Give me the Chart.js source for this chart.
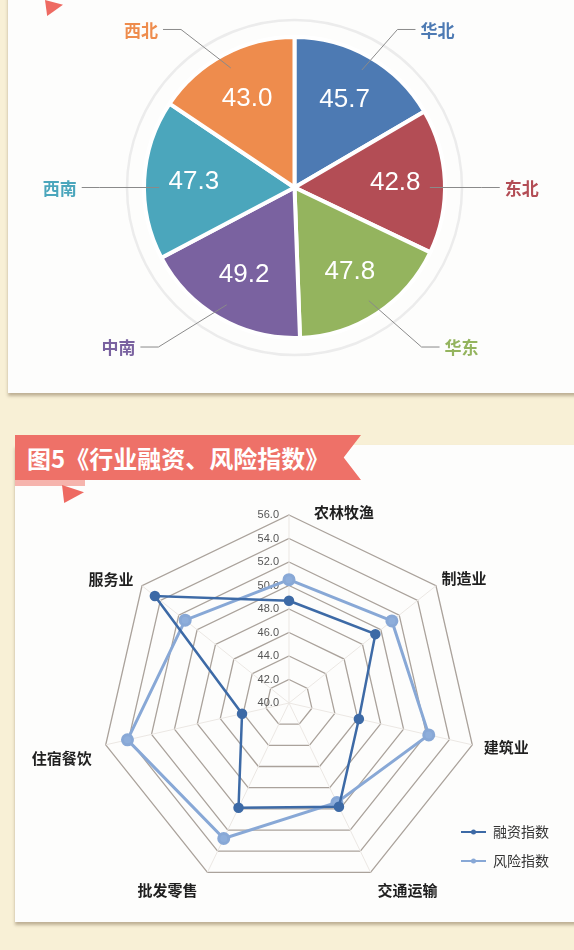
<!DOCTYPE html>
<html>
<head>
    <meta charset="utf-8">
    <title>区域指数与行业融资、风险指数</title>
    <script src="https://cdn.jsdelivr.net/npm/chart.js"></script>
    <style>
        body {
            margin: 0;
            width: 574px;
            height: 950px;
            background-color: #f8f0d6;
            position: relative;
            overflow: hidden;
            font-family: "Noto Sans CJK SC", "Noto Sans", sans-serif;
        }
        .card {
            position: absolute;
            background-color: #fdfdfc;
            box-shadow: 0 3px 3px rgba(120, 100, 70, 0.45);
        }
        #pieCard { left: 8px; top: -10px; width: 600px; height: 403px; }
        #radarCard { left: 15px; top: 445px; width: 600px; height: 477px; }
        .fold-top {
            position: absolute; left: 45px; top: 0; width: 18px; height: 16px;
            background: #ee6a62;
            clip-path: polygon(0 0, 100% 30%, 12% 100%);
        }
        .banner {
            position: absolute; left: 15px; top: 435px; width: 346px; height: 45px;
            background: #ee7168;
            clip-path: polygon(0 0, 100% 0, 95% 50%, 100% 100%, 0 100%);
            color: #fff; font-weight: bold; font-size: 24px; line-height: 45px;
            padding-left: 12px; box-sizing: border-box; white-space: nowrap;
        }
        .banner-strip {
            position: absolute; left: 15px; top: 480px; width: 70px; height: 6px;
            background: #f6b4ad;
        }
        .fold-bottom {
            position: absolute; left: 62px; top: 485px; width: 22px; height: 18px;
            background: #ee6a62;
            clip-path: polygon(0 0, 100% 40%, 10% 100%);
        }
        #pieChart { position: absolute; left: 0; top: 0; }
        #radarChart { position: absolute; left: 0; top: 480px; }
    </style>
</head>
<body>
    <div class="card" id="pieCard"></div>
    <div class="fold-top"></div>
    <div class="card" id="radarCard"></div>
    <div class="banner">图5《行业融资、风险指数》</div>
    <div class="banner-strip"></div>
    <div class="fold-bottom"></div>
    <canvas id="pieChart" width="574" height="397"></canvas>
    <canvas id="radarChart" width="574" height="440"></canvas>

    <script>
        // region index (pie)
        const regionNames = ['华北', '东北', '华东', '中南', '西南', '西北'];
        const regionValues = [45.7, 42.8, 47.8, 49.2, 47.3, 43.0];

        // industry indices (radar)
        const industries = ['农林牧渔', '制造业', '建筑业', '交通运输', '批发零售', '住宿餐饮', '服务业'];
        const financingIndex = [48.7, 49.4, 46.1, 49.8, 49.9, 44.1, 54.6];
        const riskIndex = [50.5, 51.2, 52.2, 49.4, 52.8, 54.1, 51.3];
        const seriesNames = ['融资指数', '风险指数'];
        const radarTicks = [40, 42, 44, 46, 48, 50, 52, 54, 56];

        const regionColors = ['#4d7ab3', '#b34d55', '#94b45e', '#7a62a0', '#4ba6bc', '#ee8c4d'];

        // label anchors relative to pie centre, in radius units
        const regionLabelPos = [
            [0.95, -1.05], [1.51, 0], [1.11, 1.06],
            [-1.17, 1.06], [-1.56, 0], [-1.02, -1.05]
        ];

        const pieLabels = {
            id: 'pieLabels',
            beforeDraw(chart) {
                const arc = chart.getDatasetMeta(0).data[0];
                if (!arc) return;
                const ctx = chart.ctx;
                ctx.save();
                ctx.strokeStyle = '#ececec';
                ctx.lineWidth = 2.5;
                ctx.beginPath();
                ctx.arc(arc.x, arc.y, arc.outerRadius + 17, 0, Math.PI * 2);
                ctx.stroke();
                ctx.restore();
            },
            afterDatasetsDraw(chart) {
                const ctx = chart.ctx;
                const arcs = chart.getDatasetMeta(0).data;
                ctx.save();
                arcs.forEach((arc, i) => {
                    const R = arc.outerRadius;
                    const mid = (arc.startAngle + arc.endAngle) / 2;
                    // value inside slice
                    ctx.fillStyle = '#fff';
                    ctx.font = '26px "Liberation Sans", Arial, sans-serif';
                    ctx.textAlign = 'center';
                    ctx.textBaseline = 'middle';
                    ctx.fillText(regionValues[i].toFixed(1), arc.x + Math.cos(mid) * R * 0.67, arc.y + Math.sin(mid) * R * 0.67);

                    // region name + leader line
                    const lx = arc.x + regionLabelPos[i][0] * R;
                    const ly = arc.y + regionLabelPos[i][1] * R;
                    ctx.font = 'bold 17px "Noto Sans CJK SC", sans-serif';
                    const half = ctx.measureText(regionNames[i]).width / 2;
                    const dir = lx > arc.x ? -1 : 1;
                    const ex = lx + dir * (half + 5);
                    let ax = arc.x + Math.cos(mid) * R * 0.9;
                    let ay = arc.y + Math.sin(mid) * R * 0.9;
                    if (regionLabelPos[i][1] === 0) ay = ly;
                    ctx.strokeStyle = '#8a8a8a';
                    ctx.lineWidth = 1;
                    ctx.beginPath();
                    ctx.moveTo(ex, ly);
                    ctx.lineTo(ex + dir * 18, ly);
                    ctx.lineTo(ax, ay);
                    ctx.stroke();
                    ctx.fillStyle = regionColors[i];
                    ctx.fillText(regionNames[i], lx, ly + 1);
                });
                ctx.restore();
            }
        };

        new Chart(document.getElementById('pieChart'), {
            type: 'pie',
            data: {
                labels: regionNames,
                datasets: [{
                    data: regionValues,
                    backgroundColor: regionColors,
                    borderColor: '#ffffff',
                    borderWidth: 4,
                    hoverOffset: 0
                }]
            },
            options: {
                responsive: false,
                animation: false,
                layout: { padding: { left: 142, right: 127, top: 35, bottom: 57 } },
                plugins: { legend: { display: false }, tooltip: { enabled: false } }
            },
            plugins: [pieLabels]
        });

        // offsets of the category names from each outer vertex
        const industryLabelOffset = [
            [55, -3], [28, -7], [34, 2], [37, 18], [-40, 18], [-44, 13], [-31, -6]
        ];

        const radarDecor = {
            id: 'radarDecor',
            beforeDatasetsDraw(chart) {
                const scale = chart.scales.r;
                const ctx = chart.ctx;
                ctx.save();
                ctx.fillStyle = '#555';
                ctx.font = '11px "Liberation Sans", Arial, sans-serif';
                ctx.textAlign = 'right';
                ctx.textBaseline = 'middle';
                radarTicks.forEach(v => {
                    const d = scale.getDistanceFromCenterForValue(v);
                    ctx.fillText(v.toFixed(1), scale.xCenter - 10, scale.yCenter - d);
                });
                ctx.restore();
            },
            afterDatasetsDraw(chart) {
                const scale = chart.scales.r;
                const ctx = chart.ctx;
                ctx.save();
                ctx.fillStyle = '#1f1f1f';
                ctx.font = 'bold 15px "Noto Sans CJK SC", sans-serif';
                ctx.textAlign = 'center';
                ctx.textBaseline = 'middle';
                industries.forEach((name, i) => {
                    const p = scale.getPointPosition(i, scale.drawingArea);
                    ctx.fillText(name, p.x + industryLabelOffset[i][0], p.y + industryLabelOffset[i][1]);
                });

                // legend
                ctx.font = '14px "Noto Sans CJK SC", sans-serif';
                ctx.textAlign = 'left';
                chart.data.datasets.forEach((ds, i) => {
                    const y = 352 + i * 29;
                    ctx.strokeStyle = ds.borderColor;
                    ctx.fillStyle = ds.borderColor;
                    ctx.lineWidth = 2;
                    ctx.beginPath();
                    ctx.moveTo(461, y);
                    ctx.lineTo(486, y);
                    ctx.stroke();
                    ctx.beginPath();
                    ctx.arc(473.5, y, 2.5, 0, Math.PI * 2);
                    ctx.fill();
                    ctx.fillStyle = '#333';
                    ctx.fillText(ds.label, 493, y);
                });
                ctx.restore();
            }
        };

        new Chart(document.getElementById('radarChart'), {
            type: 'radar',
            data: {
                labels: industries,
                datasets: [
                    {
                        label: seriesNames[0],
                        data: financingIndex,
                        borderColor: '#3d6aa6',
                        backgroundColor: '#3d6aa6',
                        pointBackgroundColor: '#3d6aa6',
                        borderWidth: 2.5,
                        pointRadius: 4,
                        fill: false
                    },
                    {
                        label: seriesNames[1],
                        data: riskIndex,
                        borderColor: '#88a8d6',
                        backgroundColor: '#88a8d6',
                        pointBackgroundColor: '#8eaedb',
                        borderWidth: 3,
                        pointRadius: 5,
                        fill: false
                    }
                ]
            },
            options: {
                responsive: false,
                animation: false,
                layout: { padding: { left: 101, right: 97, top: 35, bottom: 29 } },
                plugins: { legend: { display: false }, tooltip: { enabled: false } },
                elements: { line: { tension: 0 } },
                scales: {
                    r: {
                        min: 40,
                        max: 56,
                        ticks: { display: false, stepSize: 2 },
                        pointLabels: { display: false },
                        grid: { color: '#aaa29b', lineWidth: 1.3 },
                        angleLines: { color: '#ebe7e3', lineWidth: 1 }
                    }
                }
            },
            plugins: [radarDecor]
        });
    </script>
</body>
</html>
